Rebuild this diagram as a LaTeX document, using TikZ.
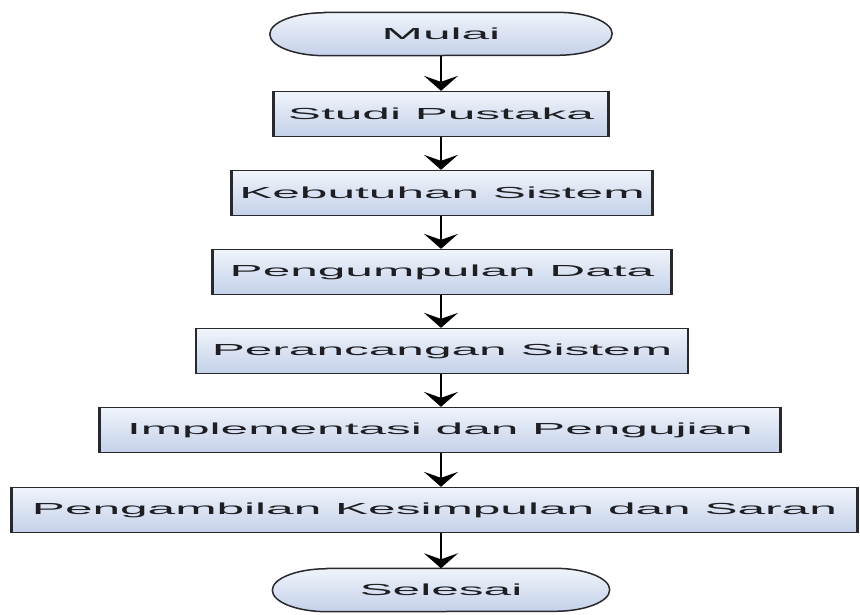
\documentclass[tikz,border=0pt]{standalone}
\usepackage{fontspec}
\setmainfont{Liberation Sans}
\usetikzlibrary{arrows.meta}
\definecolor{boxtop}{RGB}{240,244,251}
\definecolor{boxbot}{RGB}{196,209,233}
\definecolor{edge}{RGB}{40,40,45}
\definecolor{ink}{RGB}{30,30,35}
\newcommand{\stretchtxt}[1]{\scalebox{3.1}[1]{#1}}
\tikzset{
  stepbox/.style={rectangle, draw=edge, line width=1.3pt,
    top color=boxtop, bottom color=boxbot,
    font=\fontsize{16}{16}\selectfont, text=ink,
    minimum height=45pt, inner sep=0pt},
  termbox/.style={rectangle, draw=none, fill=none,
    font=\fontsize{16}{16}\selectfont, text=ink,
    minimum height=43pt, inner sep=0pt},
  flow/.style={draw=black, line width=2pt,
    -{Stealth[width=34pt,length=15pt,inset=6pt]}}
}
\begin{document}
\begin{tikzpicture}[x=1pt,y=-1pt]
\useasboundingbox (0,0) rectangle (860,614);

% terminal outlines: flat top and bottom, half-ellipse ends
\newcommand{\terminal}[1]{%
  \path[draw=edge, line width=1.5pt, top color=boxtop, bottom color=boxbot]
    ([xshift=55pt]#1.north west) -- ([xshift=-55pt]#1.north east)
    arc[start angle=90, end angle=-90, x radius=55pt, y radius=21.5pt]
    -- ([xshift=55pt]#1.south west)
    arc[start angle=270, end angle=90, x radius=55pt, y radius=21.5pt]
    -- cycle;}

\node[termbox, minimum width=342pt] (mulai) at (441,34) {};
\terminal{mulai}
\node[termbox, minimum width=342pt] at (mulai) {\stretchtxt{Mulai}};

\node[stepbox, minimum width=334pt] (studi) at (441,114) {\stretchtxt{Studi Pustaka}};
\node[stepbox, minimum width=420pt] (kebutuhan) at (442,193) {\stretchtxt{Kebutuhan Sistem}};
\node[stepbox, minimum width=458pt] (kumpul) at (442,272) {\stretchtxt{Pengumpulan Data}};
\node[stepbox, minimum width=491pt] (rancang) at (442,351) {\stretchtxt{Perancangan Sistem}};
\node[stepbox, minimum width=680pt] (implement) at (440,430) {\stretchtxt{Implementasi dan Pengujian}};
\node[stepbox, minimum width=845pt] (simpulan) at (434.5,510) {\stretchtxt{Pengambilan Kesimpulan dan Saran}};

\node[termbox, minimum width=337pt] (selesai) at (441,590) {};
\terminal{selesai}
\node[termbox, minimum width=337pt] at (selesai) {\stretchtxt{Selesai}};

% heavier vertical sides of the process boxes
\foreach \b in {studi,kebutuhan,kumpul,rancang,implement,simpulan}{
  \draw[edge, line width=2.6pt] (\b.north west) -- (\b.south west);
  \draw[edge, line width=2.6pt] (\b.north east) -- (\b.south east);
}

% connectors
\draw[flow] (mulai.south) -- (mulai.south |- studi.north);
\draw[flow] (studi.south) -- (studi.south |- kebutuhan.north);
\draw[flow] (kebutuhan.south -| studi.south) -- (studi.south |- kumpul.north);
\draw[flow] (kumpul.south -| studi.south) -- (studi.south |- rancang.north);
\draw[flow] (rancang.south -| studi.south) -- (studi.south |- implement.north);
\draw[flow] (implement.south -| studi.south) -- (studi.south |- simpulan.north);
\draw[flow] (simpulan.south -| studi.south) -- (studi.south |- selesai.north);
\end{tikzpicture}
\end{document}
